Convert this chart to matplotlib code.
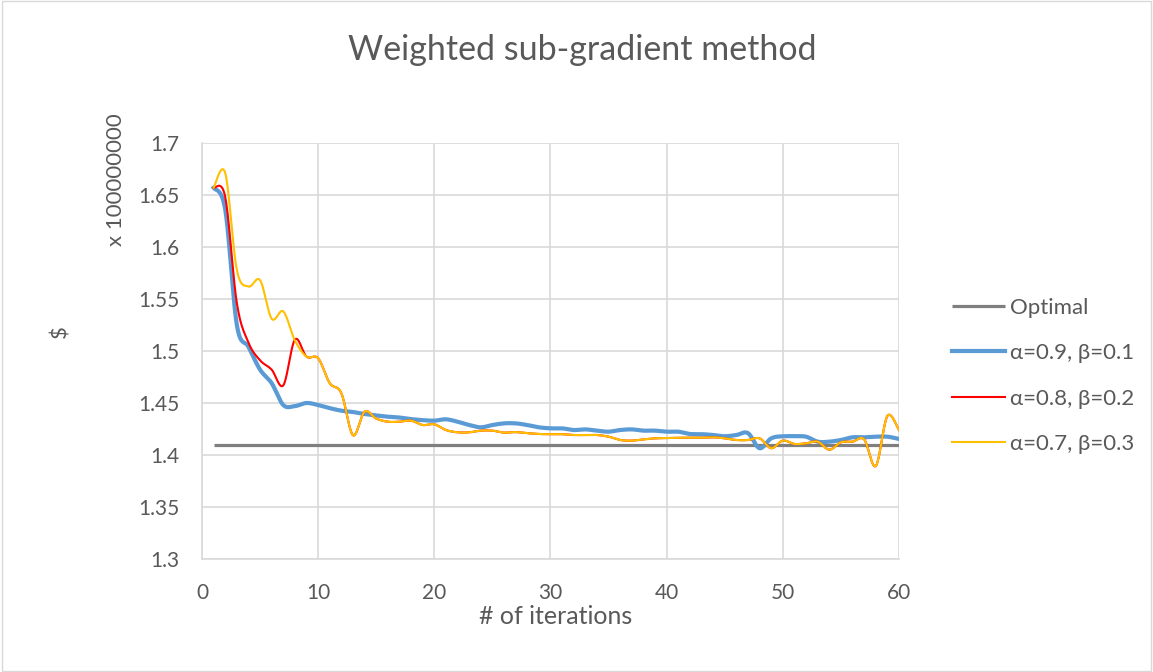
import numpy as np
import matplotlib
matplotlib.use("Agg")
import matplotlib.pyplot as plt
from matplotlib.patches import Rectangle

plt.rcParams['font.family'] = ['Lato', 'DejaVu Sans']

# values in units of 1e8 $
iterations = list(range(1, 61))
optimal = 1.4092

blue = [1.657, 1.636, 1.525, 1.504, 1.482, 1.469, 1.448, 1.447, 1.450, 1.448,
        1.445, 1.4426, 1.4413, 1.4394, 1.438, 1.4368, 1.4360, 1.4345, 1.4335, 1.433,
        1.4343, 1.432, 1.4288, 1.4266, 1.4288, 1.4304, 1.4304, 1.4288, 1.4266, 1.4256,
        1.4256, 1.424, 1.4246, 1.4234, 1.4224, 1.424, 1.4246, 1.4234, 1.4234, 1.4224,
        1.4224, 1.4202, 1.420, 1.4192, 1.418, 1.4192, 1.421, 1.4065, 1.416, 1.418,
        1.418, 1.4176, 1.4128, 1.4128, 1.4144, 1.417, 1.417, 1.4176, 1.4176, 1.4154]

yellow = [1.657, 1.671, 1.578, 1.562, 1.568, 1.531, 1.538, 1.510, 1.4945, 1.493,
          1.469, 1.4593, 1.419, 1.4417, 1.435, 1.432, 1.432, 1.433, 1.4288, 1.4295,
          1.424, 1.4218, 1.4218, 1.4234, 1.4234, 1.4215, 1.422, 1.421, 1.4202, 1.420,
          1.420, 1.4192, 1.4192, 1.4192, 1.4176, 1.4144, 1.4138, 1.415, 1.416, 1.4163,
          1.4166, 1.4166, 1.4166, 1.417, 1.416, 1.4144, 1.4144, 1.416, 1.4065, 1.4138,
          1.4106, 1.4112, 1.4128, 1.4051, 1.4122, 1.4128, 1.415, 1.3894, 1.4375, 1.424]

red = [1.657, 1.648, 1.546, 1.508, 1.491, 1.482, 1.467, 1.511] + yellow[8:]

labels = ["Optimal", "α=0.9, β=0.1", "α=0.8, β=0.2", "α=0.7, β=0.3"]
colors = ["#7f7f7f", "#5b9bd5", "#ff0000", "#ffc000"]


def smooth(x, y, n=20):
    # Excel-like smoothed line (Catmull-Rom bezier segments)
    x = np.asarray(x, float)
    y = np.asarray(y, float)
    px = np.concatenate([[x[0]], x, [x[-1]]])
    py = np.concatenate([[y[0]], y, [y[-1]]])
    t = np.linspace(0, 1, n, endpoint=False)[:, None]
    xs, ys = [], []
    for i in range(1, len(px) - 2):
        p0 = np.array([px[i], py[i]])
        p3 = np.array([px[i + 1], py[i + 1]])
        c1 = p0 + (np.array([px[i + 1], py[i + 1]]) - np.array([px[i - 1], py[i - 1]])) / 6
        c2 = p3 - (np.array([px[i + 2], py[i + 2]]) - np.array([px[i], py[i]])) / 6
        pts = ((1 - t) ** 3) * p0 + 3 * ((1 - t) ** 2) * t * c1 + 3 * (1 - t) * t ** 2 * c2 + t ** 3 * p3
        xs.append(pts[:, 0])
        ys.append(pts[:, 1])
    xs.append([x[-1]])
    ys.append([y[-1]])
    return np.concatenate(xs), np.concatenate(ys)


fig = plt.figure(figsize=(11.53, 6.72), dpi=100)
ax = fig.add_axes([0.1752, 0.1682, 0.6045, 0.619])

ax.plot([iterations[0], iterations[-1]], [optimal, optimal], color=colors[0], lw=2.3,
        label=labels[0], solid_capstyle='butt')
for series, col, lw, lab in [(blue, colors[1], 3.0, labels[1]),
                             (red, colors[2], 1.5, labels[2]),
                             (yellow, colors[3], 1.5, labels[3])]:
    sx, sy = smooth(iterations, series)
    ax.plot(sx, sy, color=col, lw=lw, label=lab, solid_joinstyle='round')

ax.set_xlim(0, 60)
ax.set_ylim(1.3, 1.7)
ax.set_xticks(range(0, 61, 10))
yt = np.round(np.arange(1.3, 1.7001, 0.05), 2)
ax.set_yticks(yt)
ax.set_yticklabels([f"{v:g}" for v in yt])
ax.grid(True, color="#d9d9d9", lw=1.2)
ax.set_axisbelow(True)
for s in ["top", "right"]:
    ax.spines[s].set_visible(False)
for s in ["left", "bottom"]:
    ax.spines[s].set_color("#d9d9d9")
    ax.spines[s].set_linewidth(1.2)
ax.tick_params(length=0, labelsize=15, colors="#595959")
ax.tick_params(axis="y", pad=16)
ax.tick_params(axis="x", pad=17)

fig.text(0.4815, 0.0833, "# of iterations", fontsize=18, color="#595959", ha="center", va="center")
fig.text(0.052, 0.506, "\\$", rotation=90, fontsize=16, color="#595959", ha="center", va="center")
fig.text(0.101, 0.732, "x 100000000", rotation=90, fontsize=16, color="#595959", ha="center", va="center")
fig.text(0.505, 0.926, "Weighted sub-gradient method", fontsize=24.5, color="#595959", ha="center", va="center")

leg = ax.legend(loc="center left", bbox_to_anchor=(1.063, 0.440), frameon=False, fontsize=16,
                handlelength=2.4, labelspacing=1.14, handletextpad=0.22, borderaxespad=0)
for t in leg.get_texts():
    t.set_color("#595959")

fig.patches.append(Rectangle((0.002, 0.002), 0.996, 0.996, transform=fig.transFigure,
                             fill=False, edgecolor="#d9d9d9", lw=1))

fig.savefig("out.png", dpi=100, facecolor="white")
